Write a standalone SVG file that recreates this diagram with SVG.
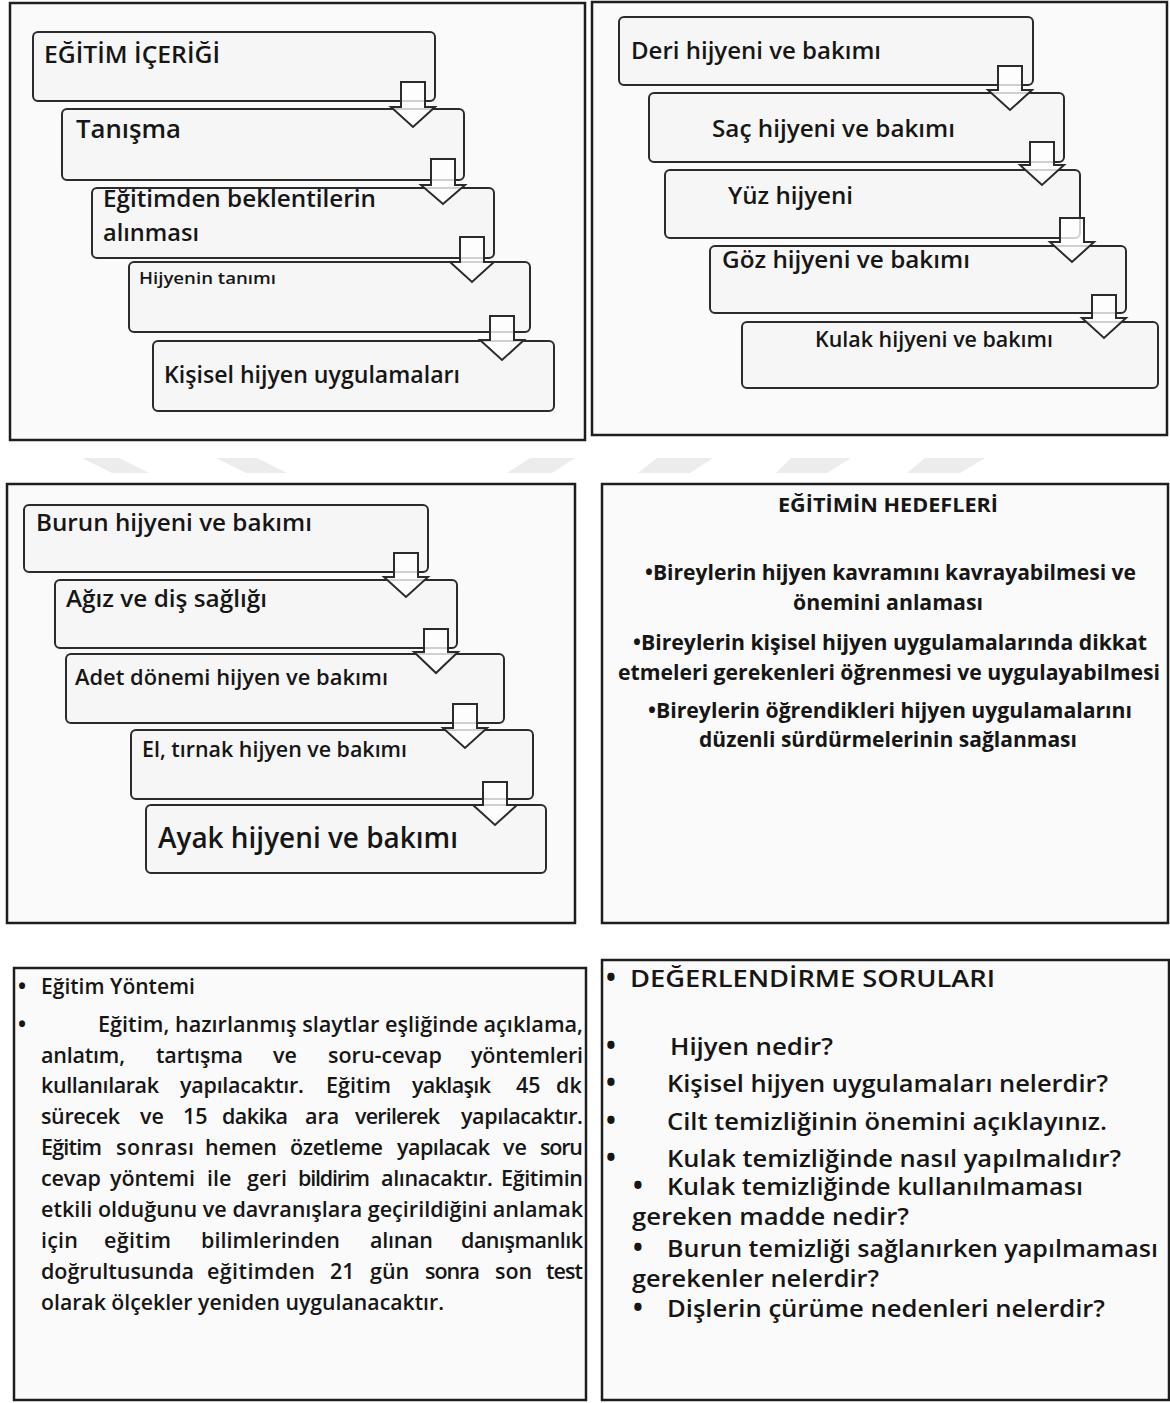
<svg xmlns="http://www.w3.org/2000/svg" width="1170" height="1403" viewBox="0 0 1170 1403">
<style>
.panel{fill:#fafafa;stroke:#1e1e1e;stroke-width:2.5}
.box{fill:#f6f6f6;stroke:#2b2b2b;stroke-width:2}
.arr{fill:#ffffff;fill-opacity:0.78;stroke:#2b2b2b;stroke-width:2;stroke-linejoin:miter}
.wm{fill:#ececec}
.t{font-family:"Open Sans","Liberation Sans",sans-serif;fill:#161616;font-weight:600}
.b{font-weight:bold}
.bul{font-weight:bold}
</style>
<rect width="1170" height="1403" fill="#ffffff"/>
<g id="watermark">
<polygon class="wm" points="82,458 119,458 149,473 112,473"/>
<polygon class="wm" points="216,458 257,458 287,473 246,473"/>
<polygon class="wm" points="530,458 575,458 552,473 507,473"/>
<polygon class="wm" points="657,458 713,458 690,473 638,473"/>
<polygon class="wm" points="791,458 851,458 827,473 776,473"/>
<polygon class="wm" points="925,458 985,458 960,473 907,473"/>
</g>
<g id="panel-icerik">
<rect class="panel" x="10" y="3" width="575" height="437"/>
<g id="n-egitim-icerigi"><rect class="box" x="33" y="32" width="402" height="69" rx="5"/><text class="t" x="44" y="63" font-size="22.5" textLength="176" lengthAdjust="spacingAndGlyphs">EĞİTİM İÇERİĞİ</text></g>
<g id="n-tanisma"><rect class="box" x="62" y="109" width="402" height="71" rx="5"/><text class="t" x="76" y="138" font-size="24.5" textLength="105" lengthAdjust="spacingAndGlyphs">Tanışma</text></g>
<g id="n-beklenti"><rect class="box" x="92" y="188" width="402" height="70" rx="5"/><text class="t" x="103" y="207" font-size="23.5" textLength="273" lengthAdjust="spacingAndGlyphs">Eğitimden beklentilerin</text><text class="t" x="103" y="241" font-size="23.5" textLength="96" lengthAdjust="spacingAndGlyphs">alınması</text></g>
<g id="n-hijyen-tanimi"><rect class="box" x="129" y="262" width="401" height="70" rx="5"/><text class="t" x="139" y="284" font-size="17" textLength="137" lengthAdjust="spacingAndGlyphs">Hijyenin tanımı</text></g>
<g id="n-kisisel"><rect class="box" x="153" y="341" width="401" height="70" rx="5"/><text class="t" x="164" y="383" font-size="23" textLength="296" lengthAdjust="spacingAndGlyphs">Kişisel hijyen uygulamaları</text></g>
</g>
<g id="panel-bakim1">
<rect class="panel" x="592" y="2" width="575" height="433"/>
<g id="n-deri"><rect class="box" x="619" y="17" width="414" height="68" rx="5"/><text class="t" x="631" y="59" font-size="24" textLength="250" lengthAdjust="spacingAndGlyphs">Deri hijyeni ve bakımı</text></g>
<g id="n-sac"><rect class="box" x="649" y="93" width="415" height="69" rx="5"/><text class="t" x="712" y="137" font-size="24" textLength="243" lengthAdjust="spacingAndGlyphs">Saç hijyeni ve bakımı</text></g>
<g id="n-yuz"><rect class="box" x="665" y="170" width="415" height="68" rx="5"/><text class="t" x="728" y="204" font-size="24" textLength="125" lengthAdjust="spacingAndGlyphs">Yüz hijyeni</text></g>
<g id="n-goz"><rect class="box" x="710" y="246" width="416" height="67" rx="5"/><text class="t" x="722" y="268" font-size="24" textLength="248" lengthAdjust="spacingAndGlyphs">Göz hijyeni ve bakımı</text></g>
<g id="n-kulak"><rect class="box" x="742" y="322" width="416" height="66" rx="5"/><text class="t" x="815" y="347" font-size="21.5" textLength="238" lengthAdjust="spacingAndGlyphs">Kulak hijyeni ve bakımı</text></g>
</g>
<g id="panel-bakim2">
<rect class="panel" x="7" y="484" width="568" height="439"/>
<g id="n-burun"><rect class="box" x="24" y="505" width="404" height="67" rx="5"/><text class="t" x="36" y="531" font-size="24" textLength="276" lengthAdjust="spacingAndGlyphs">Burun hijyeni ve bakımı</text></g>
<g id="n-agiz"><rect class="box" x="55" y="580" width="402" height="68" rx="5"/><text class="t" x="66" y="607" font-size="23.5" textLength="201" lengthAdjust="spacingAndGlyphs">Ağız ve diş sağlığı</text></g>
<g id="n-adet"><rect class="box" x="66" y="654" width="438" height="69" rx="5"/><text class="t" x="75" y="685" font-size="21" textLength="313" lengthAdjust="spacingAndGlyphs">Adet dönemi hijyen ve bakımı</text></g>
<g id="n-el"><rect class="box" x="131" y="730" width="402" height="69" rx="5"/><text class="t" x="142" y="757" font-size="21" textLength="265" lengthAdjust="spacingAndGlyphs">El, tırnak hijyen ve bakımı</text></g>
<g id="n-ayak"><rect class="box" x="146" y="805" width="400" height="68" rx="5"/><text class="t" x="158" y="848" font-size="28" textLength="300" lengthAdjust="spacingAndGlyphs">Ayak hijyeni ve bakımı</text></g>
</g>
<g id="connectors">
<path class="arr" d="M401,82 H425 V107 H435 L413,127 L391,107 H401 Z"/>
<path class="arr" d="M431,159 H455 V185 H465 L443,204 L421,185 H431 Z"/>
<path class="arr" d="M460,237 H484 V262 H494 L472,282 L450,262 H460 Z"/>
<path class="arr" d="M490,316 H514 V340 H524 L502,360 L480,340 H490 Z"/>
<path class="arr" d="M998,66 H1022 V90 H1032 L1010,110 L988,90 H998 Z"/>
<path class="arr" d="M1030,142 H1054 V165 H1064 L1042,185 L1020,165 H1030 Z"/>
<path class="arr" d="M1060,218 H1084 V242 H1094 L1072,262 L1050,242 H1060 Z"/>
<path class="arr" d="M1092,295 H1116 V318 H1126 L1104,338 L1082,318 H1092 Z"/>
<path class="arr" d="M394,553 H418 V577 H428 L406,597 L384,577 H394 Z"/>
<path class="arr" d="M424,629 H448 V652 H458 L436,673 L414,652 H424 Z"/>
<path class="arr" d="M453,704 H477 V728 H487 L465,748 L443,728 H453 Z"/>
<path class="arr" d="M483,782 H507 V805 H517 L495,825 L473,805 H483 Z"/>
</g>
<g id="panel-hedefler">
<rect class="panel" x="602" y="484" width="566" height="439"/>
<text class="t b" x="778" y="512" font-size="20" textLength="220" lengthAdjust="spacingAndGlyphs">EĞİTİMİN HEDEFLERİ</text>
<text class="t b" x="645" y="580" font-size="20.5" textLength="491" lengthAdjust="spacingAndGlyphs">•Bireylerin hijyen kavramını kavrayabilmesi ve</text>
<text class="t b" x="793" y="610" font-size="20.5" textLength="190" lengthAdjust="spacingAndGlyphs">önemini anlaması</text>
<text class="t b" x="633" y="650" font-size="20.5" textLength="514" lengthAdjust="spacingAndGlyphs">•Bireylerin kişisel hijyen uygulamalarında dikkat</text>
<text class="t b" x="618" y="680" font-size="20.5" textLength="542" lengthAdjust="spacingAndGlyphs">etmeleri gerekenleri öğrenmesi ve uygulayabilmesi</text>
<text class="t b" x="648" y="718" font-size="20.5" textLength="484" lengthAdjust="spacingAndGlyphs">•Bireylerin öğrendikleri hijyen uygulamalarını</text>
<text class="t b" x="699" y="747" font-size="20.5" textLength="378" lengthAdjust="spacingAndGlyphs">düzenli sürdürmelerinin sağlanması</text>
</g>
<g id="panel-yontem" class="t" font-size="21.5">
<rect class="panel" x="14" y="968" width="572" height="432"/>
<text class="bul" x="18" y="994">•</text>
<text x="41" y="994" textLength="154" lengthAdjust="spacingAndGlyphs">Eğitim Yöntemi</text>
<text class="bul" x="18" y="1032">•</text>
<text x="98" y="1032" textLength="485" lengthAdjust="spacingAndGlyphs">Eğitim, hazırlanmış slaytlar eşliğinde açıklama,</text>
<text y="1063"><tspan x="41" textLength="84">anlatım,</tspan><tspan x="156" textLength="87">tartışma</tspan><tspan x="273">ve</tspan><tspan x="328" textLength="114">soru-cevap</tspan><tspan x="471" textLength="112">yöntemleri</tspan></text>
<text y="1093"><tspan x="41" textLength="118">kullanılarak</tspan><tspan x="180" textLength="124">yapılacaktır.</tspan><tspan x="326" textLength="65">Eğitim</tspan><tspan x="412" textLength="79">yaklaşık</tspan><tspan x="516">45</tspan><tspan x="556">dk</tspan></text>
<text y="1124"><tspan x="41" textLength="79">sürecek</tspan><tspan x="140">ve</tspan><tspan x="183">15</tspan><tspan x="222" textLength="66">dakika</tspan><tspan x="305">ara</tspan><tspan x="355" textLength="85">verilerek</tspan><tspan x="461" textLength="122">yapılacaktır.</tspan></text>
<text y="1155"><tspan x="41" textLength="61">Eğitim</tspan><tspan x="116" textLength="78">sonrası</tspan><tspan x="205" textLength="72">hemen</tspan><tspan x="290" textLength="93">özetleme</tspan><tspan x="397" textLength="93">yapılacak</tspan><tspan x="503">ve</tspan><tspan x="540" textLength="43">soru</tspan></text>
<text y="1186"><tspan x="41" textLength="60">cevap</tspan><tspan x="110" textLength="85">yöntemi</tspan><tspan x="207">ile</tspan><tspan x="247" textLength="40">geri</tspan><tspan x="298" textLength="72">bildirim</tspan><tspan x="381" textLength="112">alınacaktır.</tspan><tspan x="501" textLength="82">Eğitimin</tspan></text>
<text x="41" y="1217" textLength="542" lengthAdjust="spacingAndGlyphs">etkili olduğunu ve davranışlara geçirildiğini anlamak</text>
<text y="1248"><tspan x="41" textLength="37">için</tspan><tspan x="104" textLength="67">eğitim</tspan><tspan x="201" textLength="139">bilimlerinden</tspan><tspan x="370" textLength="63">alınan</tspan><tspan x="461" textLength="122">danışmanlık</tspan></text>
<text y="1279"><tspan x="41" textLength="153">doğrultusunda</tspan><tspan x="207" textLength="108">eğitimden</tspan><tspan x="330">21</tspan><tspan x="370">gün</tspan><tspan x="425" textLength="55">sonra</tspan><tspan x="495">son</tspan><tspan x="546" textLength="37">test</tspan></text>
<text x="41" y="1310" textLength="403" lengthAdjust="spacingAndGlyphs">olarak ölçekler yeniden uygulanacaktır.</text>
</g>
<g id="panel-sorular" class="t" font-size="23">
<rect class="panel" x="602" y="960" width="567" height="440"/>
<text class="bul" x="606" y="987" font-size="26">•</text>
<text x="630" y="987" font-size="24" textLength="365" lengthAdjust="spacingAndGlyphs">DEĞERLENDİRME SORULARI</text>
<text class="bul" x="606" y="1055" font-size="26">•</text>
<text x="670" y="1055" textLength="163" lengthAdjust="spacingAndGlyphs">Hijyen nedir?</text>
<text class="bul" x="606" y="1092" font-size="26">•</text>
<text x="667" y="1092" textLength="441" lengthAdjust="spacingAndGlyphs">Kişisel hijyen uygulamaları nelerdir?</text>
<text class="bul" x="606" y="1130" font-size="26">•</text>
<text x="667" y="1130" textLength="440" lengthAdjust="spacingAndGlyphs">Cilt temizliğinin önemini açıklayınız.</text>
<text class="bul" x="606" y="1167" font-size="26">•</text>
<text x="667" y="1167" textLength="454" lengthAdjust="spacingAndGlyphs">Kulak temizliğinde nasıl yapılmalıdır?</text>
<text class="bul" x="633" y="1195" font-size="26">•</text>
<text x="667" y="1195" textLength="416" lengthAdjust="spacingAndGlyphs">Kulak temizliğinde kullanılmaması</text>
<text x="632" y="1225" textLength="277" lengthAdjust="spacingAndGlyphs">gereken madde nedir?</text>
<text class="bul" x="633" y="1257" font-size="26">•</text>
<text x="667" y="1257" textLength="491" lengthAdjust="spacingAndGlyphs">Burun temizliği sağlanırken yapılmaması</text>
<text x="632" y="1287" textLength="247" lengthAdjust="spacingAndGlyphs">gerekenler nelerdir?</text>
<text class="bul" x="633" y="1317" font-size="26">•</text>
<text x="667" y="1317" textLength="438" lengthAdjust="spacingAndGlyphs">Dişlerin çürüme nedenleri nelerdir?</text>
</g>
</svg>
